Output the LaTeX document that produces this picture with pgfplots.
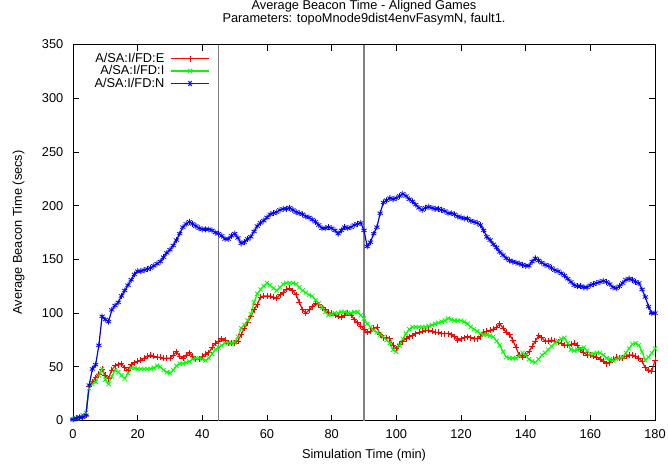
\documentclass[border=0pt]{standalone}
\usepackage{fontspec}
\setmainfont{Liberation Sans}
\usepackage{pgfplots}
\usepackage{pgfplotstable}
\pgfplotsset{compat=1.18}
\definecolor{gpred}{rgb}{1,0,0}
\definecolor{gpgreen}{rgb}{0,1,0}
\definecolor{gpblue}{rgb}{0,0,1}
\definecolor{legred}{rgb}{0.97,0.03,0.03}
\definecolor{leggreen}{rgb}{0.03,0.97,0.03}
\definecolor{legblue}{rgb}{0.05,0.05,1}
\definecolor{vlineA}{rgb}{0.5,0.5,0.5}
\newcommand{\gpfont}{\fontsize{12.8bp}{11bp}\selectfont}
\newcommand{\legtext}[1]{\llap{#1\hspace{46bp}}}
\pgfplotstableread{
x E I N
0 1 1 1
1 2 2 2
2 2 3 3
3 3 5 3
4 5 7 5
5 32 30 33
6 36 34 48
7 40 36 52
8 43 42 70
9 48 48 97
10 42 38 94
11 39 34 92
12 47 41 103
13 51 47 107
14 52 45 110
15 53 42 116
16 49 39 121
17 47 44 126
18 52 49 131
19 54 49 136
20 55 48 139
21 56 48 139
22 58 48 140
23 60 48 141
24 61 48 142
25 60 49 144
26 59 51 146
27 59 50 148
28 58 47 152
29 58 45 156
30 58 44 159
31 61 47 163
32 64 51 168
33 60 53 174
34 58 53 180
35 61 54 183
36 63 55 185
37 60 57 183
38 57 58 181
39 57 58 179
40 60 57 178
41 62 56 178
42 63 58 178
43 68 62 177
44 72 66 175
45 74 68 174
46 76 70 172
47 75 72 169
48 72 72 169
49 72 72 172
50 72 73 174
51 74 78 170
52 80 86 165
53 86 89 166
54 91 93 169
55 97 99 171
56 103 110 176
57 108 118 181
58 115 122 184
59 116 125 186
60 116 128 189
61 116 126 192
62 115 123 193
63 114 121 194
64 117 124 196
65 119 127 197
66 122 128 197
67 123 128 198
68 121 128 196
69 117 127 194
70 110 124 193
71 103 121 192
72 100 119 190
73 103 117 189
74 106 116 187
75 109 112 185
76 108 109 182
77 105 105 179
78 103 101 179
79 101 98 180
80 100 99 179
81 98 100 177
82 97 100 174
83 96 101 177
84 98 101 180
85 100 100 179
86 98 100 180
87 94 101 182
88 91 101 183
89 88 98 184
90 85 95 177
91 82 90 162
92 83 87 166
93 86 84 174
94 87 82 180
95 80 80 193
96 77 78 203
97 77 75 205
98 76 72 207
99 70 66 206
100 67 64 207
101 71 70 209
102 74 76 211
103 76 81 209
104 78 85 206
105 79 87 204
106 81 87 201
107 82 87 198
108 83 87 196
109 84 87 198
110 84 88 199
111 83 89 198
112 82 90 197
113 82 91 197
114 81 92 196
115 81 93 195
116 81 95 193
117 80 94 193
118 78 93 192
119 75 93 190
120 76 93 189
121 77 92 188
122 78 90 188
123 77 87 186
124 76 85 185
125 76 83 184
126 78 81 182
127 82 80 177
128 83 80 171
129 84 79 168
130 85 78 164
131 87 74 161
132 90 70 157
133 86 64 154
134 82 59 151
135 80 58 149
136 75 58 148
137 68 58 147
138 61 60 146
139 59 63 145
140 61 61 144
141 64 57 144
142 69 55 148
143 74 54 151
144 79 57 149
145 77 61 147
146 74 63 145
147 74 66 144
148 75 69 142
149 74 72 140
150 73 74 139
151 72 76 137
152 70 77 135
153 70 72 132
154 71 66 129
155 72 65 126
156 70 66 125
157 66 67 125
158 63 68 124
159 61 65 124
160 61 62 126
161 60 62 127
162 59 63 128
163 57 63 129
164 55 61 130
165 53 58 129
166 54 57 127
167 57 56 124
168 59 57 123
169 58 58 125
170 58 59 128
171 60 63 131
172 61 67 132
173 61 71 131
174 60 72 129
175 58 70 128
176 55 64 122
177 49 56 115
178 47 59 106
179 46 63 100
180 56 67 100
}\data
\begin{document}
\begin{tikzpicture}
\begin{axis}[
  at={(0,0)}, anchor=south west,
  scale only axis, width=582bp, height=376bp,
  xmin=0, xmax=180, ymin=0, ymax=350,
  xtick={0,20,...,180}, ytick={0,50,...,350},
  /pgf/number format/assume math mode=true,
  tick label style={font=\gpfont},
  xticklabel style={inner sep=0pt, yshift=-9bp},
  yticklabel style={inner sep=0pt, xshift=-9.5bp},
  major tick length=6bp,
  tick style={black, line width=0.8bp},
  axis line style={line width=0.8bp},
  unbounded coords=jump,
  title={Average Beacon Time - Aligned Games\\Parameters: topoMnode9dist4envFasymN, fault1.},
  title style={font=\gpfont, align=center, inner sep=0pt, at={(0.5,1)}, anchor=south, yshift=13.5bp},
  xlabel={Simulation Time (min)},
  xlabel style={font=\gpfont, inner sep=0pt, at={(0.5,0)}, anchor=base, yshift=-38.3bp},
  ylabel={Average Beacon Time (secs)},
  ylabel style={font=\gpfont, inner sep=0pt, at={(axis description cs:-0.08763,0.5)}, anchor=base},
  legend cell align=left,
  legend style={draw=none, fill=none, inner sep=0pt, font=\gpfont,
    at={(0.2371,0.9827)}, anchor=north east, column sep=0pt, row sep=-2.3bp,
    nodes={inner xsep=0pt}},
]
\addplot[draw=vlineA, line width=1.5bp, forget plot] coordinates {(45,0) (45,350) (67,nan) (90,0) (90,350)};
\addplot[draw=gpred, line width=1.2bp, mark=+, mark size=3bp, mark options={draw=gpred, line width=0.8bp},
  legend image code/.code={\draw[draw=legred, line width=1.5bp] (0bp,0bp) -- (38bp,0bp);
    \draw[draw=legred, line width=1bp] (16bp,0bp) -- (22bp,0bp) (19bp,-3bp) -- (19bp,3bp);}] table[x=x, y=E] {\data};
\addlegendentry{\legtext{A/SA:I/FD:E}}
\addplot[draw=gpgreen, line width=1.2bp, mark=x, mark size=3bp, mark options={draw=gpgreen, line width=0.8bp},
  legend image code/.code={\draw[draw=leggreen, line width=1.5bp] (0bp,0bp) -- (38bp,0bp);
    \draw[draw=leggreen, line width=1bp] (16.9bp,-2.1bp) -- (21.1bp,2.1bp) (16.9bp,2.1bp) -- (21.1bp,-2.1bp);}] table[x=x, y=I] {\data};
\addlegendentry{\legtext{A/SA:I/FD:I}}
\addplot[draw=gpblue, line width=1.2bp, mark=asterisk, mark size=3bp, mark options={draw=gpblue, line width=0.8bp},
  legend image code/.code={\draw[draw=legblue, line width=1.5bp] (0bp,0bp) -- (38bp,0bp);
    \draw[draw=legblue, line width=1bp] (16bp,0bp) -- (22bp,0bp) (17.5bp,-2.6bp) -- (20.5bp,2.6bp) (17.5bp,2.6bp) -- (20.5bp,-2.6bp);}] table[x=x, y=N] {\data};
\addlegendentry{\legtext{A/SA:I/FD:N}}
\addlegendimage{legend image code/.code={}}
\addlegendentry{}
\end{axis}
\path (-73bp,-44bp) rectangle (595bp,420bp);
\end{tikzpicture}
\end{document}
